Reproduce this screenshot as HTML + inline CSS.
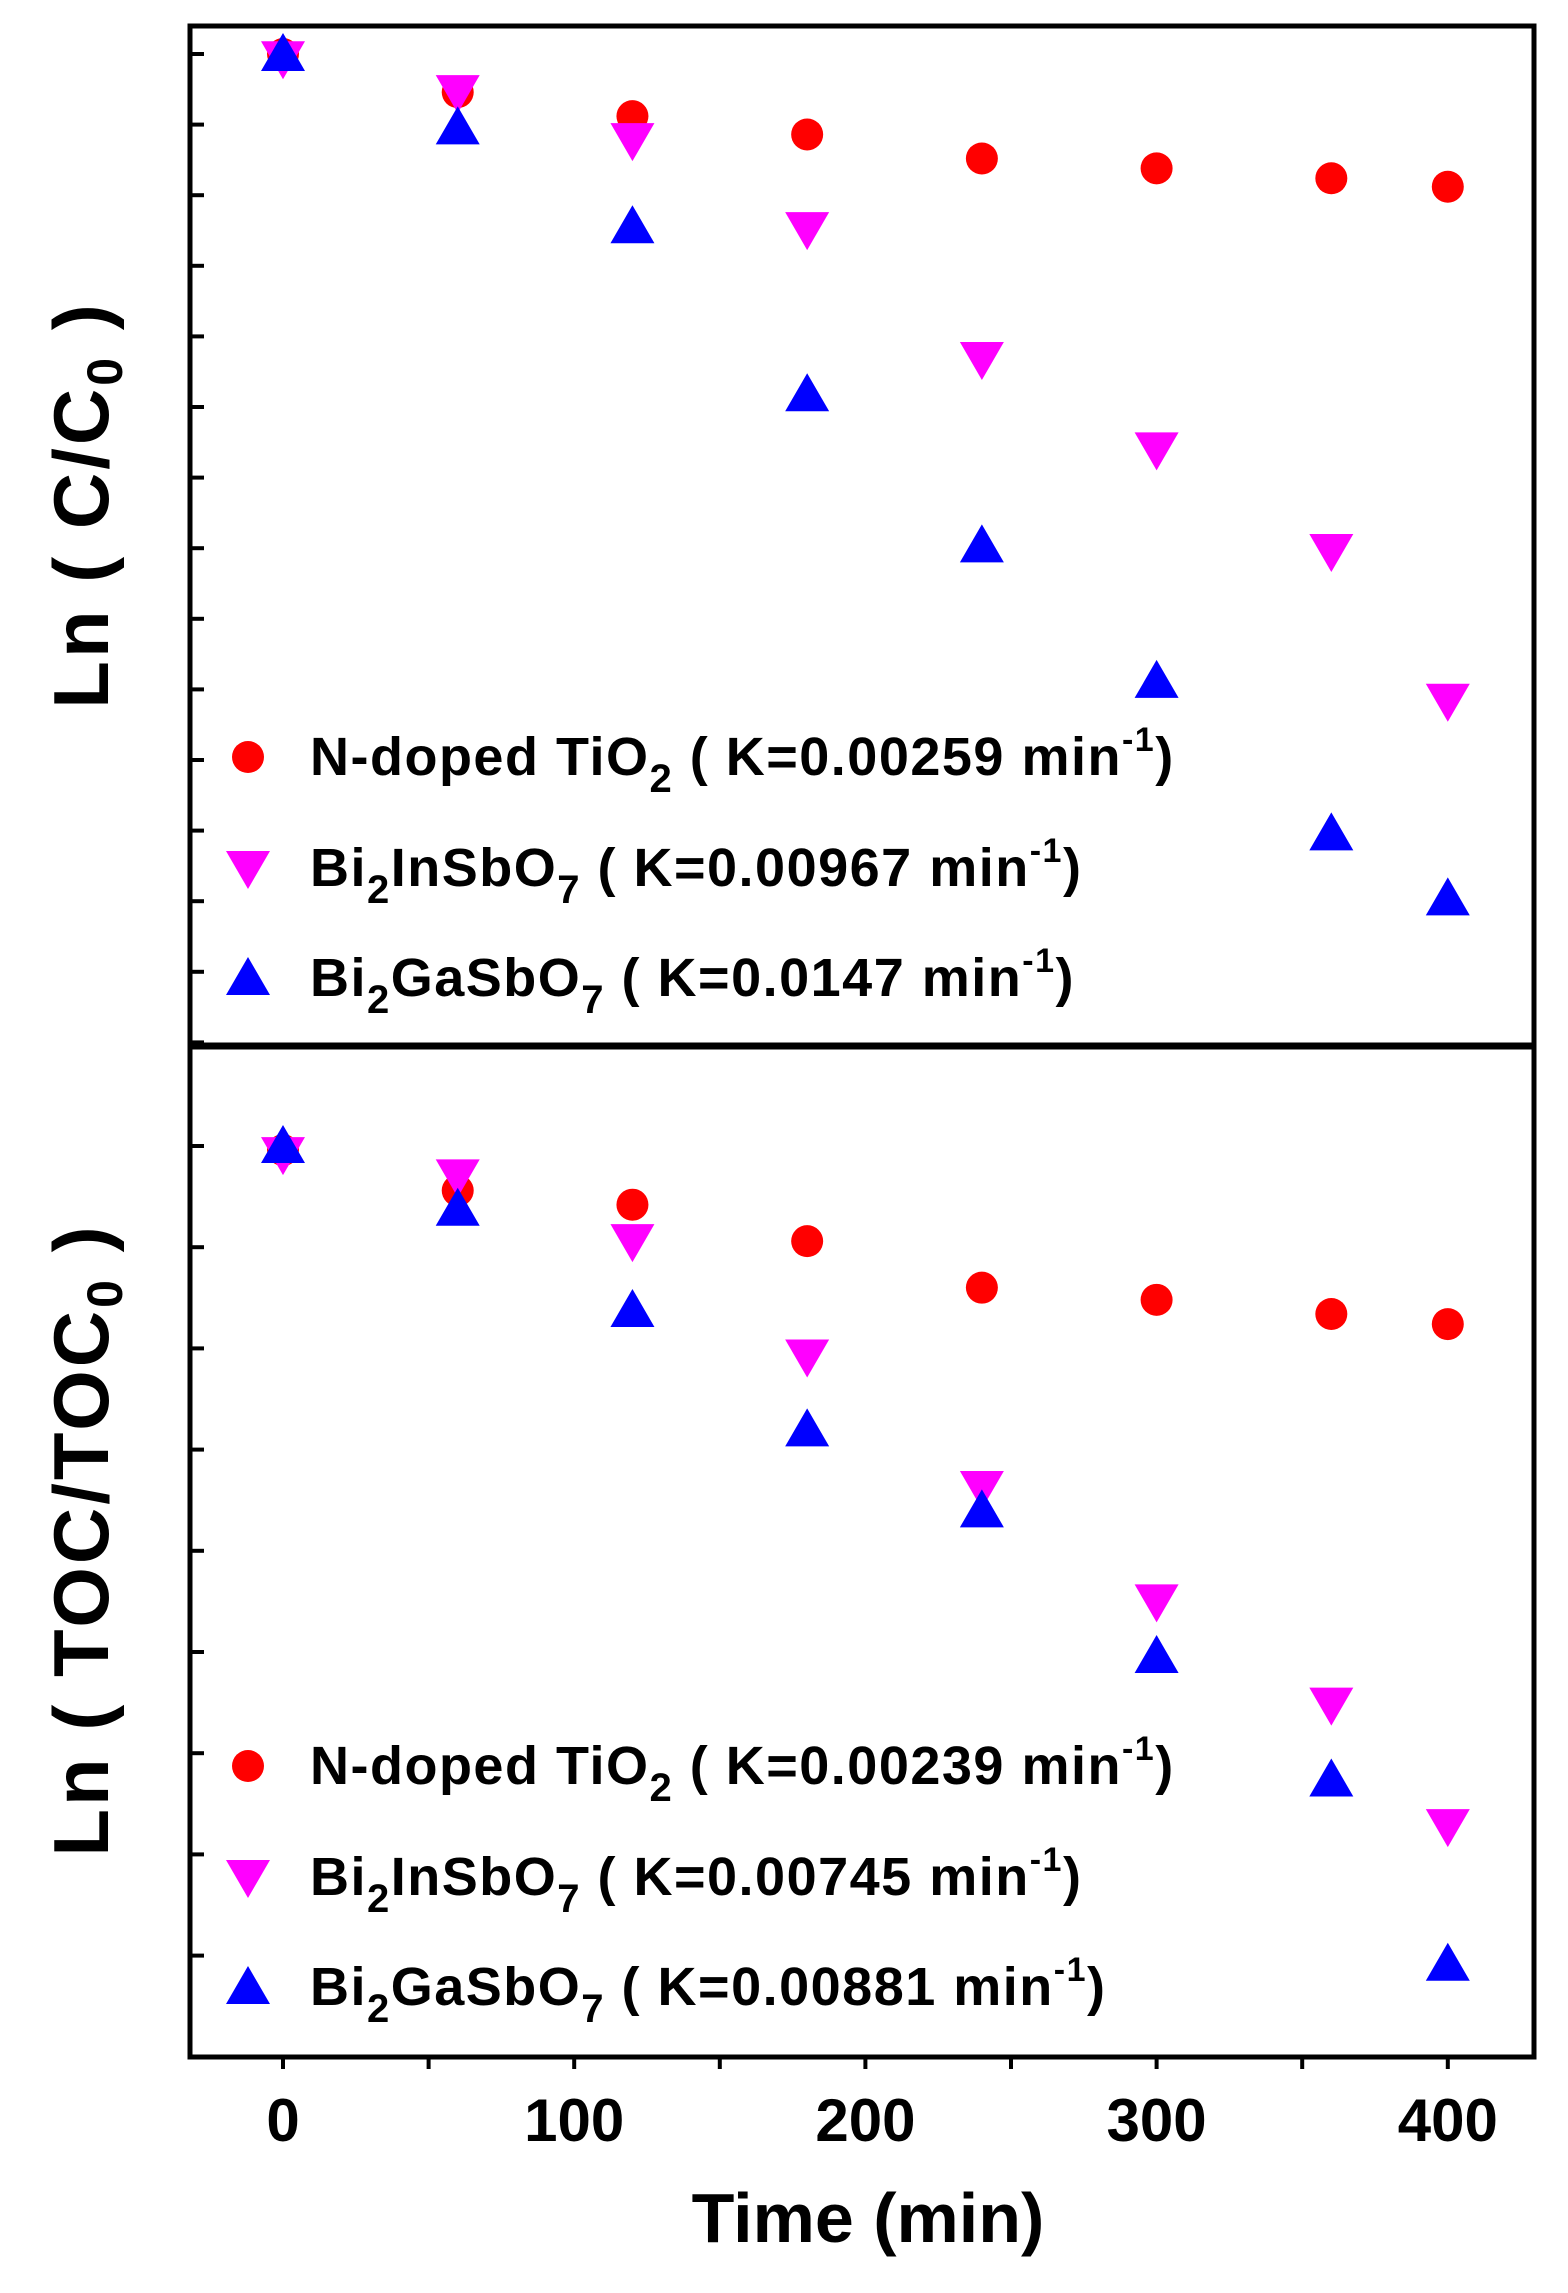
<!DOCTYPE html>
<html><head><meta charset="utf-8"><style>
html,body{margin:0;padding:0;background:#fff}
svg{display:block;font-family:"Liberation Sans",Arial,sans-serif;font-weight:bold}
</style></head><body>
<svg id="chart" width="1568" height="2293" viewBox="0 0 1568 2293" xmlns="http://www.w3.org/2000/svg">
<g id="layer"></g>
</svg>
<script>
const times = [0, 60, 120, 180, 240, 300, 360, 400];
const topTiO2 = [0, -0.27, -0.44, -0.57, -0.74, -0.81, -0.88, -0.94];
const topIn = [-0.03, -0.27, -0.61, -1.24, -2.16, -2.80, -3.52, -4.58];
const topGa = [0, -0.52, -1.22, -2.41, -3.48, -4.44, -5.52, -5.98];
const botTiO2 = [-0.02, -0.22, -0.29, -0.47, -0.70, -0.76, -0.83, -0.88];
const botIn = [-0.04, -0.15, -0.47, -1.04, -1.69, -2.25, -2.76, -3.36];
const botGa = [0, -0.31, -0.81, -1.40, -1.80, -2.52, -3.13, -4.04];
const xTickLabels = [0, 100, 200, 300, 400];
const xMinor = [50, 150, 250, 350];
const topYTicks = [0,-0.5,-1,-1.5,-2,-2.5,-3,-3.5,-4,-4.5,-5,-5.5,-6,-6.5,-7];
const botYTicks = [0,-0.5,-1,-1.5,-2,-2.5,-3,-3.5,-4];
const topLegend = ["N-doped TiO|2| (K=0.00259 min^-1^)", "Bi|2|InSbO|7| (K=0.00967 min^-1^)", "Bi|2|GaSbO|7| (K=0.0147 min^-1^)"];
const botLegend = ["N-doped TiO|2| (K=0.00239 min^-1^)", "Bi|2|InSbO|7| (K=0.00745 min^-1^)", "Bi|2|GaSbO|7| (K=0.00881 min^-1^)"];

const NS = "http://www.w3.org/2000/svg";
const L = document.getElementById('layer');
const X0 = 190, X1 = 1534;
const x = t => 283 + t * 2.912;
const yTop = v => 54 - v * 141.2;
const yBot = v => 1146 - v * 202.4;
function mk(tag, attrs, parent) {
  const e = document.createElementNS(NS, tag);
  for (const k in attrs) e.setAttribute(k, attrs[k]);
  (parent || L).appendChild(e);
  return e;
}
let f1 = mk('rect', {x: X0, y: 26, width: X1 - X0, height: 1019, fill: 'none', stroke: '#000', 'stroke-width': 5});


let f2 = mk('rect', {x: X0, y: 1047, width: X1 - X0, height: 1010, fill: 'none', stroke: '#000', 'stroke-width': 5});


topYTicks.forEach(v => {
  const t = mk('line', {x1: X0, x2: X0 + 14, y1: yTop(v), y2: yTop(v), stroke: '#000', 'stroke-width': 4});
  
  
});
botYTicks.forEach(v => {
  const t = mk('line', {x1: X0, x2: X0 + 14, y1: yBot(v), y2: yBot(v), stroke: '#000', 'stroke-width': 4});
  
  
});
xTickLabels.concat(xMinor).forEach(t => {
  const e = mk('line', {x1: x(t), x2: x(t), y1: 2057, y2: 2069, stroke: '#000', 'stroke-width': 4});
  
  
});
xTickLabels.forEach(t => {
  const e = mk('text', {x: x(t), y: 2141, 'font-size': 60, 'text-anchor': 'middle'});
  e.textContent = t;
  
  
});
let xt = mk('text', {x: 868, y: 2242, 'font-size': 70, 'text-anchor': 'middle'});
xt.textContent = 'Time (min)';



function ytitle(cx, cy, main, name) {
  const t = mk('text', {x: 0, y: 0, 'font-size': 78, 'letter-spacing': 3, 'text-anchor': 'middle', transform: `translate(${cx},${cy}) rotate(-90)`});
  
  
  const a = mk('tspan', {}, t); a.textContent = main;
  const b = mk('tspan', {'font-size': 50, dy: 14}, t); b.textContent = '0';
  const c = mk('tspan', {dy: -14}, t); c.textContent = ' )';
}
ytitle(108, 505, 'Ln  ( C/C', 'top-y-axis-title');
ytitle(108, 1540, 'Ln  ( TOC/TOC', 'bottom-y-axis-title');

function marker(kind, cx, cy, name) {
  let e;
  if (kind === 'c') e = mk('circle', {cx, cy, r: 16, fill: '#f00'});
  else if (kind === 'd') e = mk('polygon', {points: `${cx-22},${cy-17} ${cx+22},${cy-17} ${cx},${cy+21}`, fill: '#f0f'});
  else e = mk('polygon', {points: `${cx-22},${cy+17} ${cx+22},${cy+17} ${cx},${cy-21}`, fill: '#00f'});
  
  
}
function series(vals, yf, kind, name) {
  vals.forEach((v, i) => marker(kind, x(times[i]), yf(v), name));
}
series(topTiO2, yTop, 'c', 'top-tio2-point');
series(topIn, yTop, 'd', 'top-bi2insbo7-point');
series(topGa, yTop, 'u', 'top-bi2gasbo7-point');
series(botTiO2, yBot, 'c', 'bottom-tio2-point');
series(botIn, yBot, 'd', 'bottom-bi2insbo7-point');
series(botGa, yBot, 'u', 'bottom-bi2gasbo7-point');

function legend(items, ys, prefix) {
  const kinds = ['c', 'd', 'u'];
  items.forEach((s, i) => {
    marker(kinds[i], 248, ys[i], prefix + '-legend-marker');
    const t = mk('text', {x: 310, y: ys[i] + 18, 'font-size': 54, 'letter-spacing': 1.5});
    
    
    const re = /(\|[^|]*\||\^[^^]*\^)/;
    s.replace(' (', '  ( ').split(re).forEach(part => {
      if (!part) return;
      if (part[0] === '|') {
        const a = mk('tspan', {'font-size': 40, dy: 17}, t); a.textContent = part.slice(1, -1);
        const b = mk('tspan', {dy: -17}, t); b.textContent = '\u200b';
      } else if (part[0] === '^') {
        const a = mk('tspan', {'font-size': 34, dy: -24}, t); a.textContent = part.slice(1, -1);
        const b = mk('tspan', {dy: 24}, t); b.textContent = '\u200b';
      } else {
        const a = mk('tspan', {}, t); a.textContent = part;
      }
    });
  });
}
legend(topLegend, [757, 868, 978], 'top');
legend(botLegend, [1766, 1877, 1987], 'bottom');
</script>
</body></html>
